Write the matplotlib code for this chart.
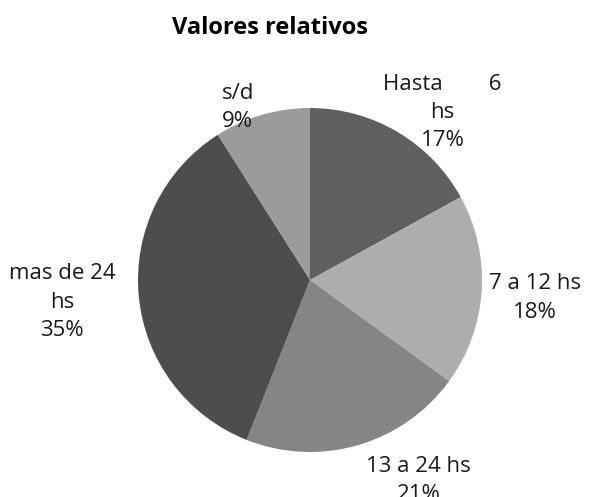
import matplotlib.pyplot as plt

# Slice data, clockwise from 12 o'clock
categories = ['Hasta        6\nhs', '7 a 12 hs', '13 a 24 hs', 'mas de 24\nhs', 's/d']
percents = [17, 18, 21, 35, 9]
colors = ['#5f5f5f', '#adadad', '#858585', '#4d4d4d', '#9b9b9b']

# label anchor points (data units, pie radius = 1)
label_pos = [(0.77, 0.975), (1.31, -0.105), (0.63, -1.165), (-1.44, -0.128), (-0.42, 1.005)]

plt.rcParams['font.family'] = ['Open Sans', 'DejaVu Sans']

fig = plt.figure(figsize=(6, 4.97), dpi=100)
fig.patch.set_facecolor('white')
ax = fig.add_axes([138 / 600, 45 / 497, 344 / 600, 344 / 497])

ax.pie(percents, colors=colors, startangle=90, counterclock=False, radius=1,
       wedgeprops=dict(linewidth=0))

# Data labels
for cat, pct, (x, y) in zip(categories, percents, label_pos):
    ax.text(x, y, f'{cat}\n{pct}%', ha='center', va='center', fontsize=16,
            color='#1a1a1a', linespacing=1.45)

ax.set_xlim(-1, 1)
ax.set_ylim(-1, 1)
ax.set_aspect('equal')
ax.axis('off')

fig.text(0.45, 1 - 28 / 497, 'Valores relativos', ha='center', va='center',
         fontsize=17, fontweight='bold', color='black')

fig.savefig('out.png', dpi=100)
